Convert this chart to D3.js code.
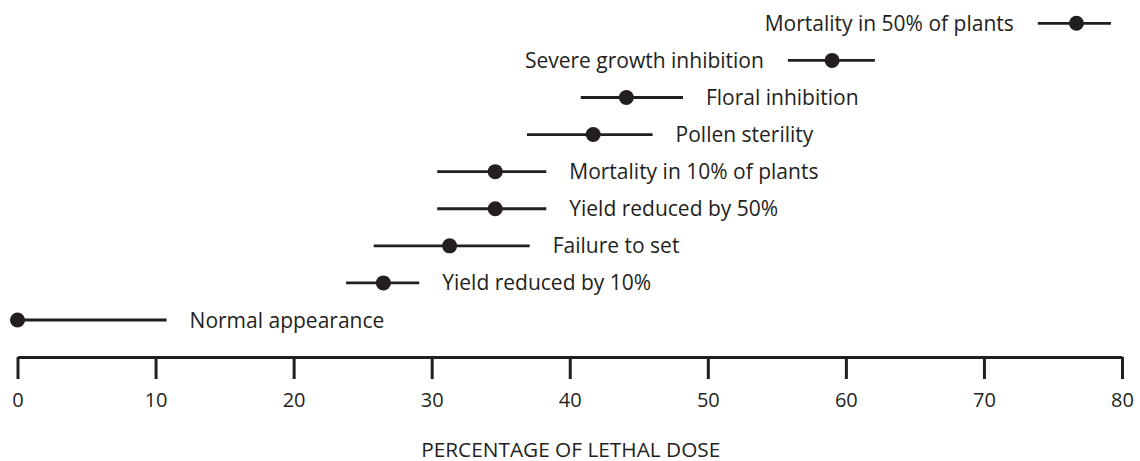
<!DOCTYPE html>
<html>
<head>
<meta charset="utf-8">
<script src="https://cdn.jsdelivr.net/npm/d3@7"></script>
<style>
  body { margin: 0; background: #fff; }
  #chart { width: 1140px; height: 461px; }
  text { font-family: "Open Sans", sans-serif; fill: #231f20; }
</style>
</head>
<body>
<div id="chart"></div>
<script>
//Datos (de abajo hacia arriba)
const efectos = ['Normal appearance', 'Yield reduced by 10%', 'Failure to set', 'Yield reduced by 50%',
    'Mortality in 10% of plants', 'Pollen sterility', 'Floral inhibition', 'Severe growth inhibition',
    'Mortality in 50% of plants'];
const centro = [0, 26.5, 31.3, 34.6, 34.6, 41.7, 44.1, 59.0, 76.7];
const minimo = [0, 23.8, 25.8, 30.4, 30.4, 36.9, 40.8, 55.8, 73.9];
const maximo = [10.8, 29.1, 37.1, 38.3, 38.3, 46.0, 48.2, 62.1, 79.2];
const etiquetaIzq = [false, false, false, false, false, false, false, true, true];
const ticks = [0, 10, 20, 30, 40, 50, 60, 70, 80];

const COLOR = '#231f20';

let data = efectos.map(function(d, i) {
    return { efecto: d, centro: centro[i], min: minimo[i], max: maximo[i], izq: etiquetaIzq[i] };
});

let margin = {top: 4, right: 18, bottom: 104, left: 17.5};

let svg = d3.select('#chart')
    .append('svg')
        .attr('width', 1140)
        .attr('height', 461)
    .append('g')
        .attr('transform', 'translate(' + margin.left + ',' + margin.top + ')');

let x = d3.scaleLinear()
    .domain([0, 80])
    .range([0, 1104.5]);

let y = d3.scalePoint()
    .domain(efectos)
    .range([316, 19.3]);

// Eje X
let xAxis = function(g) {
    g.call(d3.axisBottom(x).tickValues(ticks).tickSize(22).tickSizeOuter(0).tickPadding(14));
    g.call(function(g) { g.select('.domain').attr('stroke', COLOR).attr('stroke-width', 3); });
    g.call(function(g) { g.selectAll('.tick line').attr('stroke', COLOR).attr('stroke-width', 3); });
    g.call(function(g) {
        g.selectAll('.tick text')
            .attr('font-size', 20)
            .attr('font-family', '"Open Sans", sans-serif')
            .attr('fill', COLOR);
    });
}

svg.append('g')
    .attr('transform', 'translate(0,353)')
    .call(xAxis);

svg.append('text')
    .attr('x', x(40) + 1)
    .attr('y', 452.5)
    .attr('text-anchor', 'middle')
    .attr('font-size', 20.8)
    .text('PERCENTAGE OF LETHAL DOSE');

// Rangos
let filas = svg.append('g')
    .selectAll('g')
    .data(data)
    .enter()
    .append('g')
    .attr('transform', function(d) { return 'translate(0,' + y(d.efecto) + ')'; });

filas.append('line')
    .attr('x1', function(d) { return x(d.min); })
    .attr('x2', function(d) { return x(d.max); })
    .attr('stroke', COLOR)
    .attr('stroke-width', 2.8);

filas.append('circle')
    .attr('cx', function(d) { return x(d.centro); })
    .attr('r', 7.5)
    .attr('fill', COLOR);

filas.append('text')
    .attr('x', function(d) { return d.izq ? x(d.min) - 24 : x(d.max) + 23; })
    .attr('dy', '0.36em')
    .attr('text-anchor', function(d) { return d.izq ? 'end' : 'start'; })
    .attr('font-size', 21)
    .text(function(d) { return d.efecto; });
</script>
</body>
</html>
